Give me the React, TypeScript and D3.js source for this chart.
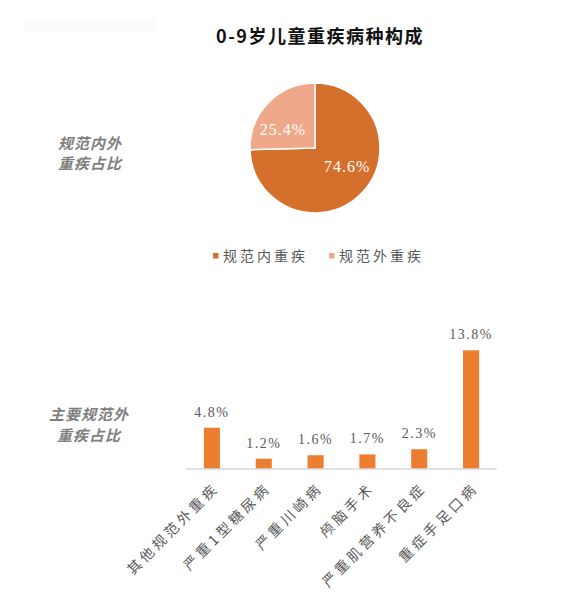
import React from "react";
import * as d3 from "d3";

// pie: share of listed / unlisted critical illnesses
const pieNames = ["规范内重疾", "规范外重疾"];
const pieValues = [74.6, 25.4];
const pieColors = ["#D4702C", "#F0A88A"];

// bars: main unlisted illnesses
const barNames = [
  "其他规范外重疾",
  "严重1型糖尿病",
  "严重川崎病",
  "颅脑手术",
  "严重肌营养不良症",
  "重症手足口病",
];
const barValues = [4.8, 1.2, 1.6, 1.7, 2.3, 13.8];

const W = 562;
const H = 595;
const CJK = '"Noto Sans CJK SC", sans-serif';
const NUM = '"Liberation Serif", "Noto Sans CJK SC", serif';
const GRAY = "#595959";

const App: React.FC = () => {
  // pie geometry
  const cx = 315;
  const cy = 148;
  const r = 65;
  const pie = d3
    .pie<number>()
    .sort(null)
    .startAngle(0)
    .endAngle(2 * Math.PI);
  const arcs = pie(pieValues);
  const arc = d3.arc<d3.PieArcDatum<number>>().innerRadius(0).outerRadius(r);

  // bar geometry
  const x = d3
    .scaleBand<string>()
    .domain(barNames)
    .range([186, 497])
    .paddingInner(0.69)
    .paddingOuter(0.345);
  const y = d3.scaleLinear().domain([0, 14]).range([469, 469 - 14 * 8.6]);

  return (
    <svg
      width={W}
      height={H}
      style={{ position: "absolute", left: 0, top: 0, background: "#fff" }}
    >
      <rect x={24} y={18} width={131} height={13} fill="#fcfcfc" />

      <text
        x={320}
        y={43}
        textAnchor="middle"
        fontFamily={CJK}
        fontWeight="bold"
        fontSize={18}
        letterSpacing={1.5}
        fill="#111"
      >
        0-9岁儿童重疾病种构成
      </text>

      {/* left side captions */}
      <g
        fontFamily={CJK}
        fontWeight="bold"
        fontStyle="italic"
        fontSize={15}
        fill="#7f7f7f"
        textAnchor="middle"
        letterSpacing={1}
      >
        <text x={90} y={149}>规范内外</text>
        <text x={90} y={169}>重疾占比</text>
        <text x={89} y={420}>主要规范外</text>
        <text x={89} y={441}>重疾占比</text>
      </g>

      {/* pie */}
      <g transform={`translate(${cx},${cy})`}>
        {arcs.map((a, i) => (
          <path
            key={i}
            d={arc(a) || ""}
            fill={pieColors[i]}
            stroke="#fff"
            strokeWidth={1.5}
          />
        ))}
        {arcs.map((a, i) => {
          const mid = (a.startAngle + a.endAngle) / 2;
          return (
            <text
              key={"l" + i}
              x={Math.sin(mid) * 45}
              y={-Math.cos(mid) * 27}
              dy="0.35em"
              textAnchor="middle"
              fontFamily={NUM}
              fontSize={16}
              letterSpacing={1}
              fill="#fff"
            >
              {a.data.toFixed(1)}%
            </text>
          );
        })}
      </g>

      {/* legend */}
      {pieNames.map((n, i) => {
        const lx = 213 + i * 116;
        return (
          <g key={n}>
            <rect x={lx} y={253} width={5.5} height={5.5} fill={pieColors[i]} />
            <text
              x={lx + 10}
              y={256}
              dy="0.35em"
              fontFamily={CJK}
              fontSize={14}
              letterSpacing={3}
              fill={GRAY}
            >
              {n}
            </text>
          </g>
        );
      })}

      {/* bars */}
      {barNames.map((n, i) => {
        const bx = x(n) || 0;
        const bw = x.bandwidth();
        return (
          <g key={n}>
            <rect
              x={bx}
              y={y(barValues[i])}
              width={bw}
              height={y(0) - y(barValues[i])}
              fill="#ED7D31"
            />
            <text
              x={bx + bw / 2}
              y={y(barValues[i]) - 11}
              textAnchor="middle"
              fontFamily={NUM}
              fontSize={14}
              letterSpacing={1.5}
              fill={GRAY}
            >
              {barValues[i].toFixed(1)}%
            </text>
          </g>
        );
      })}
      <line x1={186} x2={497} y1={469} y2={469} stroke="#d9d9d9" strokeWidth={1.5} />

      {/* rotated category labels */}
      {barNames.map((n) => {
        const c = (x(n) || 0) + x.bandwidth() / 2;
        return (
          <text
            key={"c" + n}
            transform={`translate(${c + 1},${482}) rotate(-45)`}
            textAnchor="end"
            dy="0.7em"
            fontFamily={CJK}
            fontSize={14}
            letterSpacing={3.5}
            fill={GRAY}
          >
            {n}
          </text>
        );
      })}
    </svg>
  );
};

export default App;
